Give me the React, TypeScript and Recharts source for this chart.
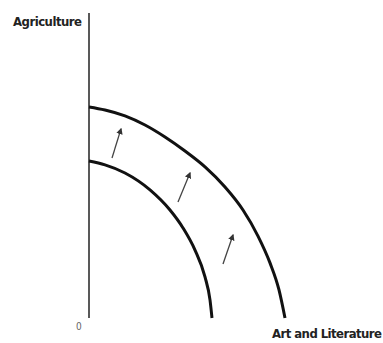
import { LineChart, Line, XAxis, YAxis, ReferenceLine } from "recharts";

// production possibilities
const outerArt = [0, 0.8, 1.8, 2.8, 3.8, 4.8, 5.8, 6.8, 7.7, 8.45, 9.05, 9.5, 9.8];
const outerAgri = [10.38, 10.23, 9.94, 9.49, 8.9, 8.21, 7.43, 6.44, 5.31, 4.03, 2.71, 1.38, 0];
const innerArt = [0, 0.8, 1.8, 3.05, 4.05, 4.7, 5.3, 5.8, 6.05, 6.15];
const innerAgri = [7.72, 7.53, 7.13, 6.3, 5.31, 4.43, 3.34, 2.02, 0.89, 0];

// shift arrows: [x1, y1, x2, y2]
const arrows = [
  [1.15, 7.87, 1.6, 9.3],
  [4.45, 5.71, 5.05, 7.13],
  [6.7, 2.66, 7.2, 4.08],
];

const outer = outerArt.map((x, i) => ({ x, y: outerAgri[i] }));
const inner = innerArt.map((x, i) => ({ x, y: innerAgri[i] }));

const font = "'Liberation Sans Narrow', 'DejaVu Sans Condensed', sans-serif";

export default function App() {
  return (
    <div style={{ position: "absolute", left: 0, top: 0, background: "#fff" }}>
      <LineChart
        width={383}
        height={343}
        margin={{ top: 13, right: 94, left: 89, bottom: 25 }}
      >
        <defs>
          <marker id="head" viewBox="0 0 10 10" refX="8" refY="5" markerWidth="5" markerHeight="5" orient="auto">
            <path d="M0,0 L10,5 L0,10 z" fill="#333" />
          </marker>
        </defs>
        <XAxis type="number" dataKey="x" domain={[0, 10]} hide />
        <YAxis type="number" dataKey="y" domain={[0, 15]} hide />
        {/* vertical axis only, no horizontal one in the original */}
        <ReferenceLine
          segment={[{ x: 0, y: 0 }, { x: 0, y: 15 }]}
          stroke="#222"
          strokeWidth={1.5}
          ifOverflow="visible"
        />
        {arrows.map((a, i) => (
          <ReferenceLine
            key={`arr-${i}`}
            segment={[{ x: a[0], y: a[1] }, { x: a[2], y: a[3] }]}
            stroke="#444"
            strokeWidth={1.3}
            markerEnd="url(#head)"
            ifOverflow="visible"
          />
        ))}
        <Line data={outer} dataKey="y" type="monotone" stroke="#111" strokeWidth={3} dot={false} isAnimationActive={false} />
        <Line data={inner} dataKey="y" type="monotone" stroke="#111" strokeWidth={3} dot={false} isAnimationActive={false} />
        <text x={13} y={26} fontFamily={font} fontWeight="bold" fontSize={13} fill="#222" textLength={69}>
          Agriculture
        </text>
        <text x={272} y={338} fontFamily={font} fontWeight="bold" fontSize={13} fill="#222" textLength={110}>
          Art and Literature
        </text>
        <text x={76} y={330} fontFamily={font} fontSize={10} fill="#666">
          0
        </text>
      </LineChart>
    </div>
  );
}
